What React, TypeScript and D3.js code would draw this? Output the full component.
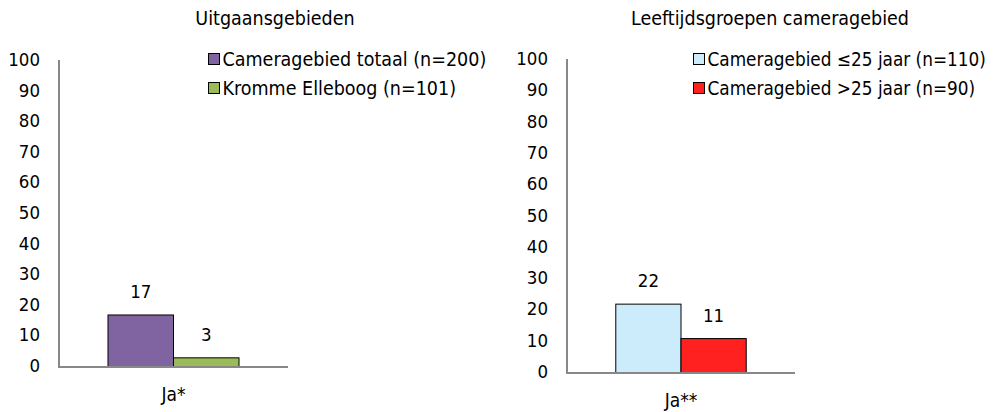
import React from "react";
import * as d3 from "d3";

const leftTitle = "Uitgaansgebieden";
const leftCategories = ["Ja*"];
const leftSeries = ["Cameragebied totaal (n=200)", "Kromme Elleboog (n=101)"];
const leftValues = [17, 3];
const leftColors = ["#8064A2", "#9BBB59"];

const rightTitle = "Leeftijdsgroepen cameragebied";
const rightCategories = ["Ja**"];
const rightSeries = ["Cameragebied ≤25 jaar (n=110)", "Cameragebied >25 jaar (n=90)"];
const rightValues = [22, 11];
const rightColors = ["#CCEBFB", "#FF2020"];

const yTicks = [0, 10, 20, 30, 40, 50, 60, 70, 80, 90, 100];

const FONT = "'DejaVu Sans Condensed', 'DejaVu Sans', sans-serif";

type PanelProps = {
  title: string;
  titleX: number;
  categories: string[];
  series: string[];
  values: number[];
  colors: string[];
  axisX0: number;
  axisX1: number;
  yTop: number;
  yBottom: number;
  legendX: number;
  legendFont: number;
  catLabelY: number;
};

function Panel(p: PanelProps) {
  const y = d3.scaleLinear().domain([0, 100]).range([p.yBottom, p.yTop]);
  const x = d3
    .scaleBand<string>()
    .domain(p.categories)
    .range([p.axisX0, p.axisX1])
    .paddingInner(0)
    .paddingOuter(0.374);
  const xs = d3
    .scaleBand<string>()
    .domain(p.series)
    .range([0, x.bandwidth()])
    .padding(0);
  const cat = p.categories[0];
  return (
    <g fontFamily={FONT} fill="#000">
      <text x={p.titleX} y={25} fontSize={19.5} textAnchor="middle">
        {p.title}
      </text>
      {yTicks.map((t) => (
        <text
          key={t}
          x={p.axisX0 - 19}
          y={y(t) + 5}
          fontSize={18.5}
          textAnchor="end"
        >
          {t}
        </text>
      ))}
      {p.series.map((s, i) => {
        const x0 = (x(cat) as number) + (xs(s) as number);
        const v = p.values[i];
        return (
          <g key={s}>
            <rect
              x={x0}
              y={y(v)}
              width={xs.bandwidth()}
              height={y(0) - y(v)}
              fill={p.colors[i]}
              stroke="#000"
              strokeWidth={1}
            />
            <text
              x={x0 + xs.bandwidth() / 2}
              y={y(v) - 17}
              fontSize={18.5}
              textAnchor="middle"
            >
              {v}
            </text>
          </g>
        );
      })}
      <line x1={p.axisX0} x2={p.axisX0} y1={p.yTop - 1} y2={p.yBottom + 1} stroke="#888" strokeWidth={2} />
      <line x1={p.axisX0} x2={p.axisX1} y1={p.yBottom} y2={p.yBottom} stroke="#888" strokeWidth={2} />
      <text
        x={(x(cat) as number) + x.bandwidth() / 2}
        y={p.catLabelY}
        fontSize={19}
        textAnchor="middle"
      >
        {cat}
      </text>
      {p.series.map((s, i) => (
        <g key={"lg" + s}>
          <rect x={p.legendX} y={53.5 + i * 29} width={11} height={11} fill={p.colors[i]} stroke="#000" strokeWidth={1} />
          <text x={p.legendX + 14} y={66 + i * 29} fontSize={p.legendFont}>
            {s}
          </text>
        </g>
      ))}
    </g>
  );
}

export default function App() {
  return (
    <svg width={995} height={412} style={{ position: "absolute", left: 0, top: 0, background: "#fff" }}>
      <rect width={995} height={412} fill="#fff" />
      <Panel
        title={leftTitle}
        titleX={275}
        categories={leftCategories}
        series={leftSeries}
        values={leftValues}
        colors={leftColors}
        axisX0={59}
        axisX1={288}
        yTop={61}
        yBottom={367}
        legendX={208.5}
        legendFont={19.5}
        catLabelY={401}
      />
      <Panel
        title={rightTitle}
        titleX={770}
        categories={rightCategories}
        series={rightSeries}
        values={rightValues}
        colors={rightColors}
        axisX0={567}
        axisX1={795}
        yTop={60}
        yBottom={373}
        legendX={693.5}
        legendFont={18.8}
        catLabelY={407}
      />
    </svg>
  );
}
